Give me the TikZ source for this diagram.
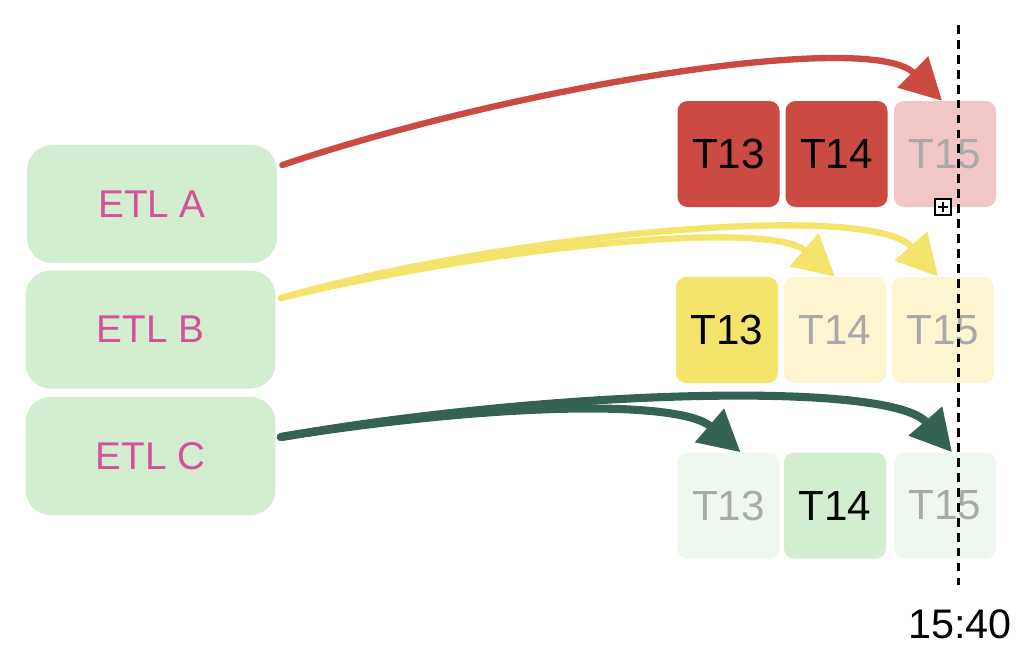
\documentclass[tikz,border=0pt]{standalone}
\usepackage{fontspec}
\setmainfont{Liberation Sans}
\usetikzlibrary{arrows.meta}
\definecolor{etlfill}{HTML}{D2EDCF}
\definecolor{etltext}{HTML}{D3529B}
\definecolor{redA}{HTML}{CB4A41}
\definecolor{redL}{HTML}{F0C7C6}
\definecolor{yelA}{HTML}{F5E46B}
\definecolor{yelL}{HTML}{FCF5D0}
\definecolor{grnA}{HTML}{D2EDCF}
\definecolor{grnL}{HTML}{EFF8EE}
\definecolor{grnD}{HTML}{356352}
\definecolor{ghost}{HTML}{A9A9A9}
\tikzset{
  etl/.style={fill=etlfill, rounded corners=0.5cm, minimum width=5cm, minimum height=2.36cm,
    text=etltext, font=\fontsize{22}{24}\selectfont, inner sep=0},
  tile/.style={rounded corners=0.2cm, minimum width=2.04cm, minimum height=2.12cm,
    font=\fontsize{24}{26}\selectfont, inner sep=0},
  ghosttile/.style={tile, text=ghost},
  brush/.style={line width=3.6pt, line cap=round, -{Triangle[length=0.82cm,width=0.85cm]}},
}
\begin{document}
\begin{tikzpicture}[x=0.02cm,y=-0.02cm]
\useasboundingbox (0,0) rectangle (1024,654);
% ETL boxes
\node[etl] (etlA) at (152,204) {ETL A};
\node[etl] (etlB) at (150.5,329.5) {ETL B};
\node[etl] (etlC) at (150.5,456) {ETL C};
% row A
\node[tile, fill=redA] (a13) at (728.5,154) {T13};
\node[tile, fill=redA] (a14) at (836.5,154) {T14};
\node[ghosttile, fill=redL] (a15) at (945,154) {T15};
% row B
\node[tile, fill=yelA] (b13) at (727,330) {T13};
\node[ghosttile, fill=yelL] (b14) at (835,330) {T14};
\node[ghosttile, fill=yelL] (b15) at (943,330) {T15};
% row C
\node[ghosttile, fill=grnL] (c13) at (728.5,505.5) {T13};
\node[tile, fill=grnA] (c14) at (835,505.5) {T14};
\node[ghosttile, fill=grnL] (c15) at (945,505.5) {T15};
% arrows
\draw[brush, draw=redA] ([xshift=0.1cm,yshift=0.78cm]etlA.east) .. controls (520,85) and (870,30) .. ([xshift=-0.06cm]a15.north);
\draw[brush, draw=yelA] ([xshift=0.1cm,yshift=0.63cm]etlB.east) .. controls (500,235) and (870,200) .. ([xshift=-0.1cm]b15.north);
\draw[brush, draw=yelA] ([xshift=0.1cm,yshift=0.63cm]etlB.east) .. controls (500,245) and (770,220) .. (b14.north);
\draw[brush, line width=4.6pt, draw=grnD] ([xshift=0.1cm,yshift=0.38cm]etlC.east) .. controls (550,390) and (890,380) .. ([xshift=0.14cm]c15.north);
\draw[brush, line width=4.6pt, draw=grnD] ([xshift=0.1cm,yshift=0.38cm]etlC.east) .. controls (500,402) and (680,400) .. ([xshift=0.24cm]c13.north);
% time line
\coordinate (ttop) at (958,25);
\coordinate (tbot) at (958,585);
\draw[line width=1.7pt, dash pattern=on 5pt off 3.5pt] (ttop) -- (tbot);
\node[font=\fontsize{23.5}{25}\selectfont, anchor=base] (time) at (960,638) {15:40};
% small icon
\node[draw, fill=white, line width=0.9pt, minimum size=0.32cm, inner sep=0,
  path picture={\draw[line width=0.8pt] ([yshift=-1.6pt]path picture bounding box.north) -- ([yshift=1.6pt]path picture bounding box.south);
  \draw[line width=0.8pt] ([xshift=1.6pt]path picture bounding box.west) -- ([xshift=-1.6pt]path picture bounding box.east);}] (icon) at (943,207) {};
\end{tikzpicture}
\end{document}
